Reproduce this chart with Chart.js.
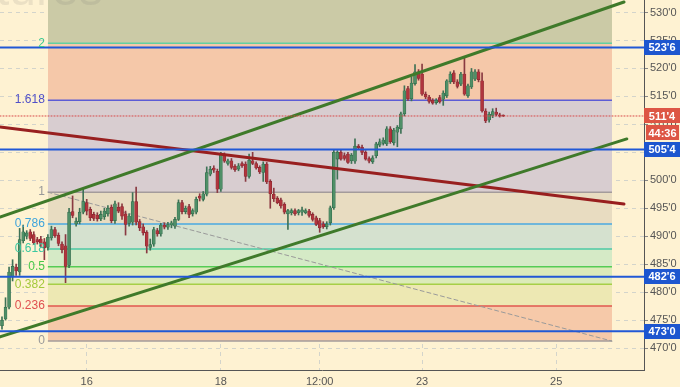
<!DOCTYPE html>
<html>
<head>
<meta charset="utf-8">
<script src="https://cdn.jsdelivr.net/npm/chart.js@4.4.1/dist/chart.umd.min.js"></script>
<style>
  html, body { margin: 0; padding: 0; background: #fef2d2; }
  #wrap { width: 680px; height: 387px; }
</style>
</head>
<body>
<div id="wrap"><canvas id="c" width="680" height="387"></canvas></div>
<script>
// hourly candles
const opens = [474, 475.2, 477.3, 482.8, 484.5, 483.6, 489.2, 490, 490.8, 490.3, 489.4, 489.5, 489, 488, 489.7, 491.2, 490.2, 488.6, 488.3, 484.8,
  494.4, 492.2, 492.6, 494.3, 496, 494.8, 493.9, 493.8, 493.1, 493.5, 494, 495.2, 492.8, 495.2, 495.3, 494, 492.3, 492.5, 496.2, 492.6,
  491.7, 490.7, 488, 488.6, 491, 490.4, 492, 491.6, 492, 491.8, 493, 496, 494.4, 495.3, 494, 494.3, 497.2, 496.6, 497.5, 501.1,
  502.2, 501.6, 498.4, 504.4, 503, 503.5, 502.5, 502, 503, 502.9, 500.7, 503.5, 503, 502.3, 501.4, 502.9, 499.8, 497.5, 496.8, 496.5,
  495.7, 494, 494.2, 494.6, 494.2, 494.3, 494.2, 494.5, 493.9, 493.3, 492.8, 492.2, 491.7, 492.4, 495.1, 503.8, 505, 504.4, 504.7, 503.5,
  503.4, 506.1, 505.9, 505, 503.9, 503.3, 504.4, 506.3, 506.6, 506.5, 509.2, 506.7, 508.6, 509.2, 511.9, 516.4, 514.6, 517.3, 519.4, 519,
  515.4, 514.9, 514.3, 513.9, 514.8, 514.5, 515.1, 517.6, 519.2, 517.6, 517.2, 519, 515.1, 516.7, 518.1, 519.4, 517.8, 512.4, 510.8, 511.6,
  512.2, 511.7, 511.6];
const highs = [475.6, 479, 484.5, 485.8, 485, 491.4, 492, 491, 491.2, 490.8, 489.8, 490, 489.6, 490.3, 491.8, 491.6, 490.6, 489, 490.3, 495,
  497.2, 493.3, 495, 498.4, 496.6, 495.2, 494.3, 494.2, 494.5, 495, 495.5, 495.6, 496.3, 496, 495.8, 494.5, 494, 497.8, 498.8, 493,
  492.2, 491, 489.5, 491.6, 491.4, 492.3, 492.4, 492.5, 492.7, 493.4, 496.5, 496.4, 495.4, 495.7, 494.9, 497, 497.6, 498, 502.4, 502.5,
  502.6, 502, 505, 504.9, 503.8, 503.9, 502.8, 503, 503.3, 503.3, 504.7, 505, 503.3, 502.6, 503.3, 503.2, 500.1, 498.6, 497.1, 496.8,
  496, 494.8, 494.9, 494.9, 494.8, 495.2, 494.9, 494.8, 494.2, 493.6, 493.2, 492.6, 492.6, 495.4, 505.5, 505.3, 505.4, 504.9, 505, 504.8,
  507.4, 506.4, 506.3, 505.3, 504.2, 504.4, 506.8, 507.4, 507.6, 509.6, 509.6, 509.3, 509.8, 512.2, 516.9, 516.8, 518.5, 520.7, 519.8, 520.8,
  515.8, 515.2, 514.6, 514.6, 515.2, 516, 518, 519.4, 519.6, 518, 519.3, 522.1, 517.2, 520, 519.8, 519.8, 519.2, 512.8, 512.2, 512.8,
  512.9, 512, 511.7];
const lows = [473.4, 475, 477, 482, 483, 483, 488.8, 489.5, 489.2, 488.5, 488.6, 488, 485.8, 487.5, 489.3, 489.8, 488.3, 487, 481.7, 484.4,
  493.3, 491.8, 492.2, 494, 493.8, 492.8, 492.8, 492.7, 492.8, 493, 493.6, 492.4, 492.3, 494.2, 493, 490.2, 491.8, 492, 492, 491,
  490.2, 487, 487.5, 488.2, 490, 490, 491.3, 491.2, 491.5, 491.4, 492.8, 494, 494, 493.3, 493.6, 494, 496.3, 496.3, 497.2, 500.8,
  501.4, 497.8, 498, 503.2, 502.7, 502, 501.6, 501.7, 502.3, 499.8, 500.4, 502.8, 502, 501.2, 499.8, 499.4, 495, 496.2, 495.8, 495,
  494, 491.2, 493.8, 493.7, 493.8, 493.7, 494, 493.4, 492.7, 491.9, 490.7, 491.4, 491.3, 492, 494.8, 500.2, 503.6, 503.6, 503, 503,
  503, 505.6, 504.6, 503.6, 503.1, 503, 504, 506, 506.3, 506.2, 506.6, 506.3, 506, 508.4, 511.5, 514.3, 514.2, 517, 517.9, 515.2,
  514.6, 513.8, 513.6, 513.6, 513.8, 513.4, 514.8, 517.3, 517.3, 516.5, 516.9, 515.2, 514.8, 516.4, 517.8, 517.6, 512.2, 510.3, 510.4, 511.2,
  511.5, 511.3, 511.4];
const closes = [475, 477.3, 483.6, 484.6, 483.8, 489.4, 490.8, 490.6, 489.6, 488.8, 489, 488.7, 487.9, 489.8, 491.2, 490.1, 488.7, 487.6, 484.6, 494.3,
  493.7, 492.7, 494.3, 496.2, 494.5, 493.3, 493.2, 493.1, 493.9, 494.5, 495, 492.8, 495.8, 494.5, 493.6, 492.1, 493.6, 496.2, 492.5, 491.5,
  490.6, 488.2, 488.5, 491.2, 490.4, 492, 491.6, 492.1, 492.4, 493, 496, 494.4, 495, 493.9, 494.6, 496.6, 496.8, 497.6, 501.4, 502,
  501.8, 498.4, 504.7, 503.4, 503.5, 502.3, 501.9, 502.6, 502.6, 500.7, 503.6, 503, 502.2, 501.5, 502.9, 499.7, 497.6, 496.7, 496, 495.4,
  494.3, 494.6, 494.6, 494, 494.6, 494.7, 494.6, 493.7, 493, 492.1, 491.5, 491.7, 492.2, 495.1, 505, 505, 503.8, 503.9, 503.2, 504.5,
  506.1, 505.8, 505, 503.8, 503.4, 504, 506.5, 506.9, 507.2, 509.2, 506.9, 509, 509.5, 511.9, 516, 514.6, 517.4, 519.4, 518.2, 515.4,
  514.9, 514.1, 513.8, 514.3, 514, 515.6, 517.8, 519, 517.6, 516.8, 519, 515.4, 516.9, 519.4, 519.4, 518, 512.4, 510.6, 511.8, 512.3,
  511.8, 511.5, 511.5];

const tickIndex = [24, 62, 90, 119, 157];
const tickText = ['16', '18', '12:00', '23', '25'];

const fibLow = 471.25;
const fibHigh = 497.875;
const fibStart = 13;
const fibEnd = 172.8;
const fibLevels = [0, 0.236, 0.382, 0.5, 0.618, 0.786, 1, 1.618, 2, 2.618];
const fibLineColors = ['#a39b9b', '#e0574f', '#a6cf47', '#55cc55', '#4cc9a4', '#4aa8e0', '#a39b9b', '#5c5cd6', '#62cfa2', 'rgba(0,0,0,0)'];
const fibFillColors = [null, '#f6c9a9', '#ede8b3', '#dcebb9', '#d5eac6', '#d5e1cf', '#e8dcc1', '#d8cdd0', '#f5c8a9', '#cbcaa6'];
const fibTextColors = ['#999999', '#e05050', '#a4c93c', '#48c848', '#3cc8a0', '#3ea4dc', '#999999', '#5050c8', '#3cc890'];

const hLevels = [523.75, 505.5, 482.75, 473];
const lastPrice = 511.5;
const countdown = '44:36';

// trend line anchors: x1, y1, x2, y2
const upperChannel = [-0.57, 493.44, 176.2, 531.88];
const lowerChannel = [-0.57, 472.0, 177.0, 507.4];
const redTrend = [-0.57, 509.53, 176.2, 495.76];
const fibTrend = [fibStart, fibHigh, fibEnd, fibLow];

const xMin = -0.567;
const xMax = 181.87;
const yMin = 466.08;
const yMax = 532.24;

const FONT = '"Liberation Sans", Arial, sans-serif';

function fmtPrice(v) {
  const whole = Math.floor(v + 1e-9);
  const eighths = Math.round((v - whole) * 8);
  return whole + "'" + eighths;
}

function segment(a, color, width, order, dash) {
  return {
    type: 'line',
    data: [{ x: a[0], y: a[1] }, { x: a[2], y: a[3] }],
    borderColor: color,
    borderWidth: width,
    borderDash: dash || [],
    borderCapStyle: 'round',
    pointRadius: 0,
    fill: false,
    order: order,
  };
}

const datasets = [];

fibLevels.forEach((lvl, j) => {
  const price = fibLow + (fibHigh - fibLow) * lvl;
  datasets.push({
    type: 'line',
    data: [{ x: fibStart, y: price }, { x: fibEnd, y: price }],
    borderColor: fibLineColors[j],
    borderWidth: j === 9 ? 0 : 1.5,
    backgroundColor: fibFillColors[j] || 'transparent',
    fill: j === 0 ? false : '-1',
    pointRadius: 0,
    order: 10,
  });
});

datasets.push(segment(fibTrend, '#9a9a9a', 1, 8, [4, 3]));

const up = closes.map((c, i) => c >= opens[i]);

datasets.push({
  type: 'bar',
  data: lows.map((l, i) => ({ x: i, y: [l, highs[i]] })),
  backgroundColor: up.map(u => u ? '#3e7256' : '#8a3a42'),
  barThickness: 1,
  grouped: false,
  borderSkipped: false,
  order: 6,
});
datasets.push({
  type: 'bar',
  data: opens.map((o, i) => ({ x: i, y: [o, closes[i]] })),
  backgroundColor: up.map(u => u ? '#4f8f67' : '#b0353d'),
  borderColor: up.map(u => u ? '#2f6a4a' : '#8a2630'),
  borderWidth: 0.6,
  barThickness: 3,
  minBarLength: 1,
  grouped: false,
  borderSkipped: false,
  order: 5,
});

datasets.push(segment(upperChannel, '#3f7a2a', 3, 3));
datasets.push(segment(lowerChannel, '#3f7a2a', 3, 3));
datasets.push(segment(redTrend, '#981f1f', 3, 3));

hLevels.forEach(p => {
  datasets.push(segment([xMin, p, xMax, p], '#2158d6', 2, 2));
});
datasets.push(segment([xMin, lastPrice, xMax, lastPrice], '#d84848', 1, 2, [1, 2]));

function drawTag(ctx, text, y, bg, x0, w, h) {
  ctx.fillStyle = bg;
  ctx.fillRect(x0, Math.round(y - h / 2), w, h);
  ctx.fillStyle = '#ffffff';
  ctx.font = 'bold 11px ' + FONT;
  ctx.textAlign = 'center';
  ctx.textBaseline = 'middle';
  ctx.fillText(text, x0 + w / 2, y + 0.5);
}

const overlay = {
  id: 'overlay',
  beforeDraw(chart) {
    const ctx = chart.ctx;
    ctx.save();
    ctx.fillStyle = '#fef2d2';
    ctx.fillRect(0, 0, chart.width, chart.height);
    ctx.restore();
  },
  afterDatasetsDraw(chart) {
    const ctx = chart.ctx;
    const y = chart.scales.y;
    const x = chart.scales.x;
    ctx.save();
    ctx.fillStyle = 'rgba(110,110,110,0.13)';
    ctx.font = '48px ' + FONT;
    ctx.textAlign = 'left';
    ctx.textBaseline = 'alphabetic';
    ctx.fillText('tures', -4, 5);

    ctx.font = '12px ' + FONT;
    ctx.textAlign = 'right';
    ctx.textBaseline = 'middle';
    const left = x.getPixelForValue(fibStart) - 3;
    fibTextColors.forEach((col, j) => {
      const price = fibLow + (fibHigh - fibLow) * fibLevels[j];
      ctx.fillStyle = col;
      ctx.fillText(String(fibLevels[j]), left, y.getPixelForValue(price));
    });
    ctx.restore();
  },
  afterDraw(chart) {
    const ctx = chart.ctx;
    const y = chart.scales.y;
    const x0 = chart.chartArea.right;
    ctx.save();
    hLevels.forEach(p => drawTag(ctx, fmtPrice(p), y.getPixelForValue(p), '#1d56cf', x0, 36, 15));
    const py = y.getPixelForValue(lastPrice);
    drawTag(ctx, fmtPrice(lastPrice), py, '#dd5544', x0, 36, 15);
    drawTag(ctx, countdown, py + 17, '#dd5544', x0 + 2, 33, 15);
    ctx.restore();
  },
};

new Chart(document.getElementById('c'), {
  type: 'bar',
  data: { datasets },
  plugins: [overlay],
  options: {
    responsive: false,
    devicePixelRatio: 1,
    animation: false,
    layout: { padding: 0 },
    plugins: { legend: { display: false }, tooltip: { enabled: false } },
    scales: {
      x: {
        type: 'linear',
        min: xMin,
        max: xMax,
        offset: false,
        z: 1,
        grid: { offset: false, color: 'rgba(160,175,195,0.45)', drawTicks: false },
        border: { color: '#555555', dash: [4, 4] },
        ticks: {
          autoSkip: false,
          maxRotation: 0,
          padding: 5,
          color: '#555555',
          font: { size: 11, family: FONT },
          callback: (v) => {
            const k = tickIndex.indexOf(v);
            return k >= 0 ? tickText[k] : '';
          },
        },
        afterBuildTicks: (axis) => { axis.ticks = tickIndex.map(v => ({ value: v })); },
        afterFit: (axis) => { axis.height = 17; axis.paddingLeft = 0; axis.paddingRight = 0; },
      },
      y: {
        type: 'linear',
        position: 'right',
        min: yMin,
        max: yMax,
        beginAtZero: false,
        z: 1,
        grid: { color: 'rgba(160,175,195,0.45)', tickLength: 4, tickColor: '#888888' },
        border: { color: '#555555', dash: [4, 4] },
        ticks: {
          stepSize: 5,
          includeBounds: false,
          padding: 2,
          color: '#555555',
          font: { size: 11, family: FONT },
          callback: (v) => fmtPrice(v),
        },
        afterFit: (axis) => { axis.width = 36; axis.paddingTop = 0; axis.paddingBottom = 0; },
      },
    },
  },
});
</script>
</body>
</html>
